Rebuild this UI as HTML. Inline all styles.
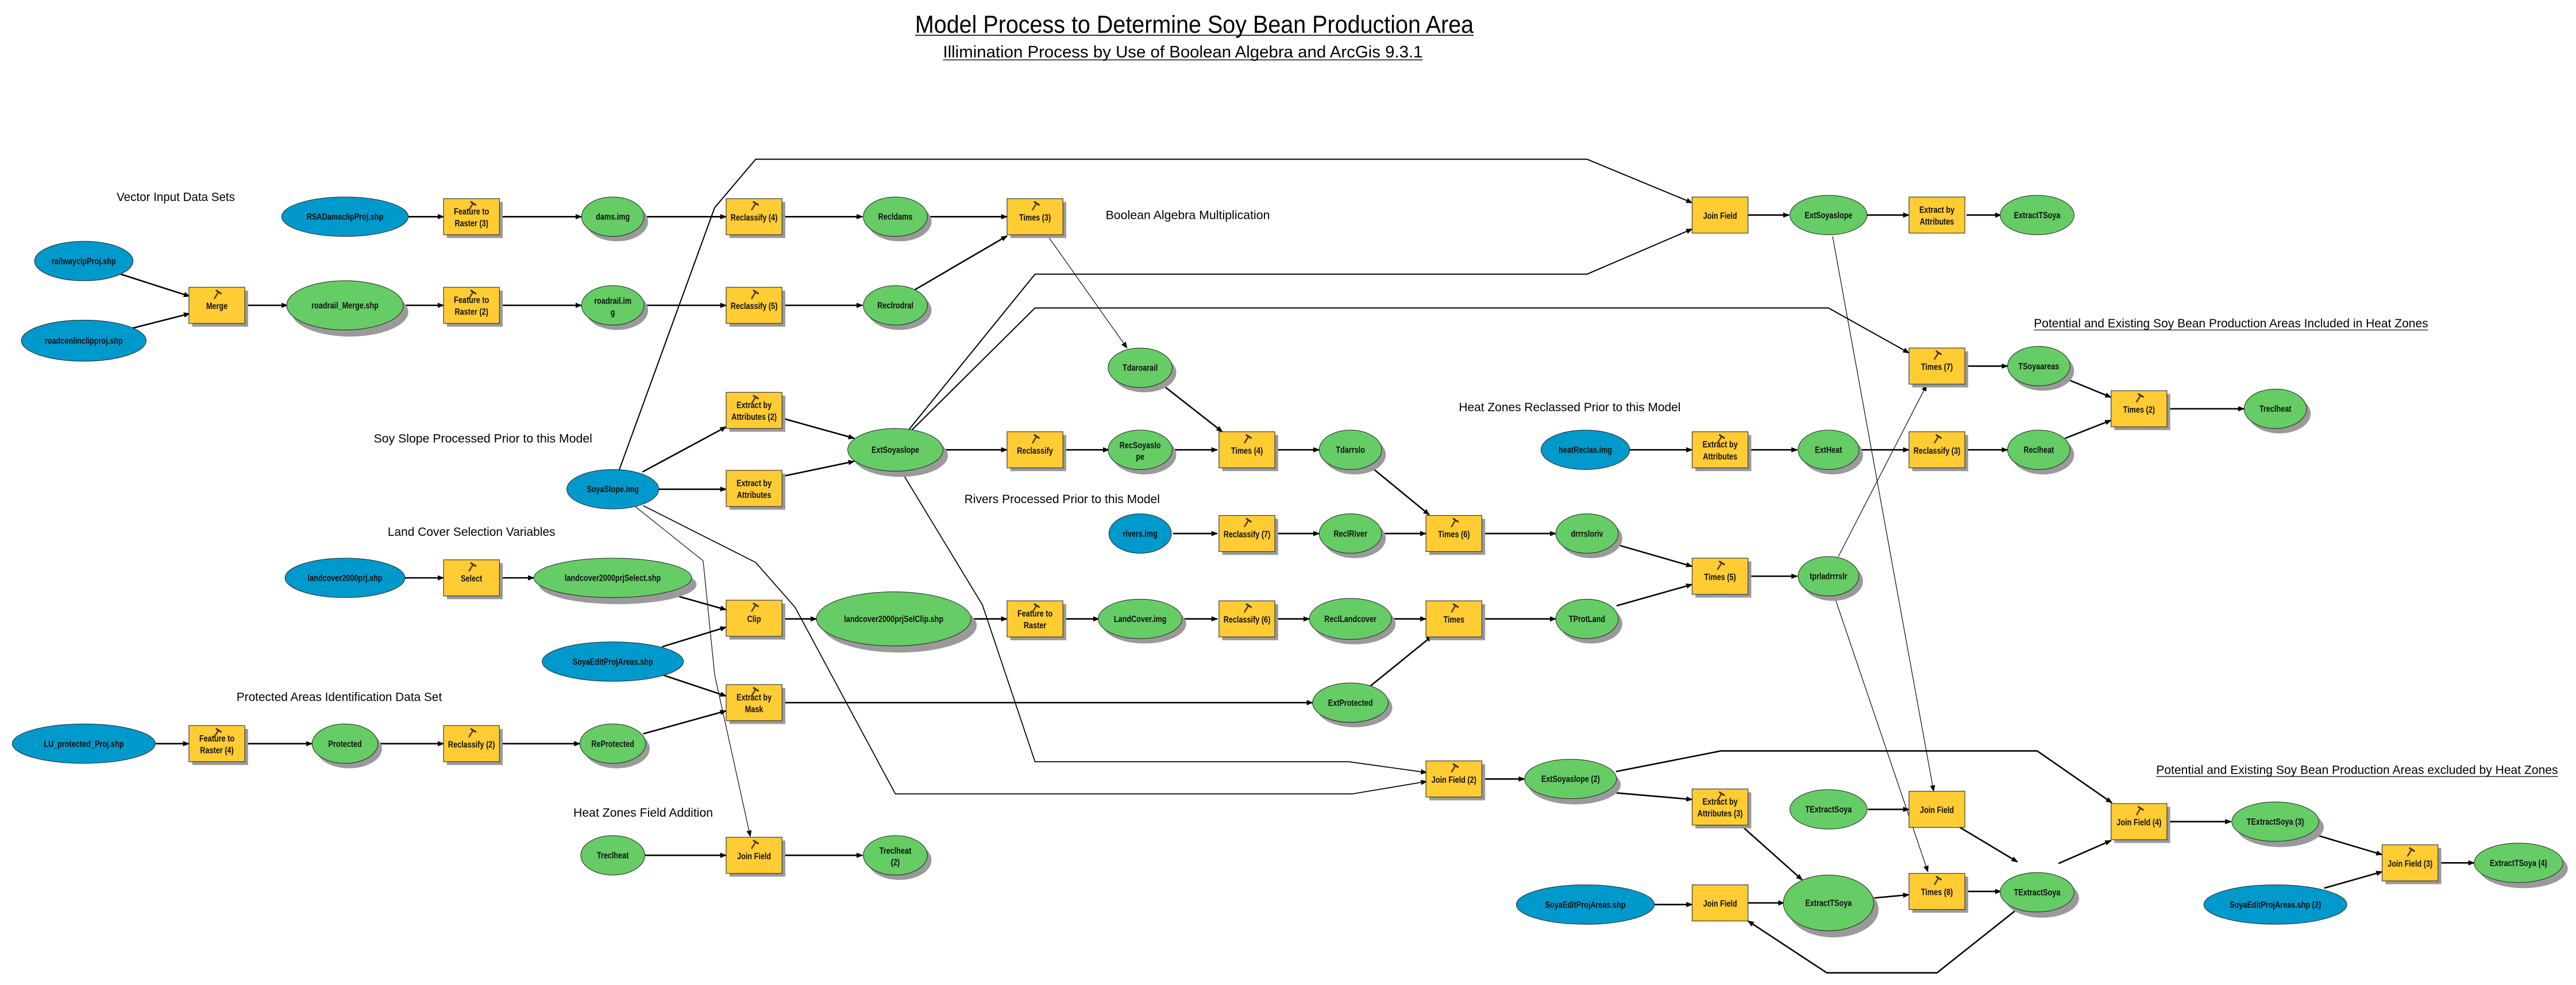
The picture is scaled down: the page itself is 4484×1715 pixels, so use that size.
<!DOCTYPE html>
<html><head><meta charset="utf-8"><style>
html,body{margin:0;padding:0;background:#fff;}
svg{display:block;}
.l{font-family:"Liberation Sans",Arial,sans-serif;font-weight:bold;font-size:5.4px;fill:#111;text-anchor:middle;}
.h{font-family:"Liberation Sans",Arial,sans-serif;font-size:7.5px;fill:#000;}
.k{fill:none;stroke:#000;stroke-width:0.9;}
.t{fill:none;stroke:#000;stroke-width:0.4;}
.gs{fill:#9a9a9a;}
.g{fill:#66CC66;stroke:#222;stroke-width:0.35;}
.bl{fill:#0099CC;stroke:#222;stroke-width:0.35;}
</style></head><body>
<svg width="4484" height="1715" viewBox="0 0 1568 600" preserveAspectRatio="none" xmlns="http://www.w3.org/2000/svg">
<defs>
<marker id="a" markerWidth="4" markerHeight="4" refX="3.6" refY="2" orient="auto" markerUnits="userSpaceOnUse"><path d="M0,0.4 L4,2 L0,3.6 Z" fill="#000"/></marker>
<g id="b"><rect x="-15" y="-9" width="34" height="22" fill="#9a9a9a"/><rect x="-17" y="-11" width="34" height="22" fill="#FFCC33" stroke="#333" stroke-width="0.4"/></g>
<g id="bh"><use href="#b"/><path d="M-1.6,-4 L1,-8.2" stroke="#6b3a10" stroke-width="0.9"/><path d="M-0.6,-9.2 L2.8,-7" stroke="#333" stroke-width="1"/></g>
<g id="bn"><rect x="-17" y="-11" width="34" height="22" fill="#FFCC33" stroke="#333" stroke-width="0.4"/></g>
</defs>
<rect width="1568" height="600" fill="#fff"/>

<!-- Titles -->
<text x="557" y="20" font-family="Liberation Sans, Arial, sans-serif" font-size="15" textLength="340" lengthAdjust="spacingAndGlyphs">Model Process to Determine Soy Bean Production Area</text>
<line x1="557" y1="21.5" x2="897" y2="21.5" stroke="#000" stroke-width="0.6"/>
<text x="574" y="35" font-family="Liberation Sans, Arial, sans-serif" font-size="10" textLength="292" lengthAdjust="spacingAndGlyphs">Illimination Process by Use of Boolean Algebra and ArcGis 9.3.1</text>
<line x1="574" y1="36.5" x2="866" y2="36.5" stroke="#000" stroke-width="0.5"/>

<!-- Headings -->
<text class="h" x="71" y="122.5" textLength="72" lengthAdjust="spacingAndGlyphs">Vector Input Data Sets</text>
<text class="h" x="227.5" y="269.5" textLength="133" lengthAdjust="spacingAndGlyphs">Soy Slope Processed Prior to  this Model</text>
<text class="h" x="236" y="326.5" textLength="102" lengthAdjust="spacingAndGlyphs">Land Cover Selection Variables</text>
<text class="h" x="144" y="427" textLength="125" lengthAdjust="spacingAndGlyphs">Protected Areas Identification Data Set</text>
<text class="h" x="349" y="497.5" textLength="85" lengthAdjust="spacingAndGlyphs">Heat Zones Field Addition</text>
<text class="h" x="673" y="133.5" textLength="100" lengthAdjust="spacingAndGlyphs">Boolean Algebra Multiplication</text>
<text class="h" x="587" y="306.5" textLength="119" lengthAdjust="spacingAndGlyphs">Rivers Processed Prior to this Model</text>
<text class="h" x="888" y="250.5" textLength="135" lengthAdjust="spacingAndGlyphs">Heat Zones Reclassed Prior to this Model</text>
<text class="h" x="1238" y="199.5" textLength="240" lengthAdjust="spacingAndGlyphs">Potential and Existing Soy Bean Production Areas Included in Heat Zones</text>
<line x1="1238" y1="201" x2="1478" y2="201" stroke="#000" stroke-width="0.4"/>
<text class="h" x="1312.5" y="471.5" textLength="244.5" lengthAdjust="spacingAndGlyphs">Potential and Existing Soy Bean Production Areas excluded by Heat Zones</text>
<line x1="1312.5" y1="473" x2="1557" y2="473" stroke="#000" stroke-width="0.4"/>

<!-- Connectors (drawn under nodes) -->
<g marker-end="url(#a)">
<line class="k" x1="73.5" y1="167" x2="115.5" y2="180.5"/>
<line class="k" x1="80.3" y1="200" x2="115.5" y2="191"/>
<line class="k" x1="150" y1="186" x2="175" y2="186"/>
<line class="k" x1="248" y1="132" x2="270" y2="132"/>
<line class="k" x1="246" y1="186" x2="270" y2="186"/>
<line class="k" x1="304" y1="132" x2="354" y2="132"/>
<line class="k" x1="304" y1="186" x2="354" y2="186"/>
<line class="k" x1="392" y1="132" x2="442" y2="132"/>
<line class="k" x1="392" y1="186" x2="442" y2="186"/>
<line class="k" x1="477" y1="132" x2="525" y2="132"/>
<line class="k" x1="477" y1="186" x2="525" y2="186"/>
<line class="k" x1="564" y1="132" x2="613" y2="132"/>
<line class="k" x1="556" y1="177" x2="613" y2="143.7"/>
<line class="t" x1="638" y1="144" x2="686" y2="212"/>
<line class="k" x1="707" y1="234" x2="744" y2="263"/>
<line class="k" x1="391" y1="287.5" x2="442" y2="260"/>
<line class="k" x1="401" y1="298" x2="442" y2="298"/>
<line class="k" x1="477" y1="255" x2="520" y2="267"/>
<line class="k" x1="477" y1="290" x2="520" y2="281"/>
<line class="k" x1="574" y1="274" x2="613" y2="274"/>
<line class="k" x1="647" y1="274" x2="675" y2="274"/>
<line class="k" x1="714" y1="274" x2="741" y2="274"/>
<line class="k" x1="776" y1="274" x2="803" y2="274"/>
<line class="k" x1="834" y1="284" x2="870" y2="313.6"/>
<line class="k" x1="714" y1="325" x2="741" y2="325"/>
<line class="k" x1="776" y1="325" x2="803" y2="325"/>
<line class="k" x1="841" y1="325" x2="868" y2="325"/>
<line class="k" x1="902" y1="325" x2="947" y2="325"/>
<line class="k" x1="983.6" y1="331.6" x2="1030" y2="345"/>
<line class="k" x1="984" y1="369" x2="1030" y2="356"/>
<line class="k" x1="1064" y1="351" x2="1094" y2="351"/>
<line class="k" x1="246" y1="352" x2="270" y2="352"/>
<line class="k" x1="304" y1="352" x2="325" y2="352"/>
<line class="k" x1="405" y1="361" x2="442" y2="371.4"/>
<line class="k" x1="403" y1="394" x2="442" y2="382"/>
<line class="k" x1="477" y1="377" x2="497" y2="377"/>
<line class="k" x1="403" y1="411" x2="442" y2="424"/>
<line class="k" x1="391.5" y1="447" x2="442" y2="433"/>
<line class="k" x1="477" y1="428" x2="799" y2="428"/>
<line class="k" x1="834" y1="418" x2="871.7" y2="387.4"/>
<line class="k" x1="591" y1="377" x2="613" y2="377"/>
<line class="k" x1="647" y1="377" x2="669" y2="377"/>
<line class="k" x1="720" y1="377" x2="741" y2="377"/>
<line class="k" x1="776" y1="377" x2="797" y2="377"/>
<line class="k" x1="847" y1="377" x2="868" y2="377"/>
<line class="k" x1="902" y1="377" x2="947" y2="377"/>
<line class="k" x1="94" y1="453" x2="115" y2="453"/>
<line class="k" x1="150" y1="453" x2="190" y2="453"/>
<line class="k" x1="229" y1="453" x2="270" y2="453"/>
<line class="k" x1="304" y1="453" x2="353" y2="453"/>
<line class="k" x1="392" y1="521" x2="442" y2="521"/>
<line class="k" x1="477" y1="521" x2="525" y2="521"/>
<line class="k" x1="902" y1="474.5" x2="928" y2="474.5"/>
<line class="k" x1="1064" y1="131" x2="1089" y2="131"/>
<line class="k" x1="1136" y1="131" x2="1162" y2="131"/>
<line class="k" x1="1197" y1="131" x2="1218" y2="131"/>
<line class="k" x1="992" y1="274" x2="1030" y2="274"/>
<line class="k" x1="1064" y1="274" x2="1094" y2="274"/>
<line class="k" x1="1131" y1="274" x2="1162" y2="274"/>
<line class="k" x1="1197" y1="274" x2="1222" y2="274"/>
<line class="k" x1="1197" y1="223" x2="1222" y2="223"/>
<line class="k" x1="1257" y1="230.5" x2="1285" y2="242"/>
<line class="k" x1="1257" y1="267" x2="1285" y2="256"/>
<line class="k" x1="1319" y1="249" x2="1366" y2="249"/>
<line class="k" x1="984" y1="483" x2="1030" y2="487"/>
<line class="k" x1="1137" y1="493" x2="1162" y2="493"/>
<line class="k" x1="1007" y1="551" x2="1030" y2="551"/>
<line class="k" x1="1064" y1="550" x2="1086" y2="550"/>
<line class="k" x1="1140.6" y1="547" x2="1162" y2="545"/>
<line class="k" x1="1197" y1="543" x2="1218" y2="543"/>
<line class="k" x1="1193" y1="504" x2="1228" y2="525"/>
<line class="k" x1="1253" y1="526" x2="1285" y2="512"/>
<line class="k" x1="1319" y1="500.5" x2="1358" y2="500.5"/>
<line class="k" x1="1407.7" y1="508" x2="1450" y2="520.6"/>
<line class="k" x1="1414.7" y1="541" x2="1450" y2="531"/>
<line class="k" x1="1484" y1="525.6" x2="1506" y2="525.6"/>
<line class="k" x1="1060" y1="503" x2="1097" y2="536"/>
<polyline class="k" points="1227.6,554 1179,592.6 1112,592.6 1064,561"/>
<polyline class="k" points="983.6,470 1047.6,457.4 1240,457.4 1285.5,489"/>
<polyline class="k" points="377,286 435,126.5 460,97 966,97 1030,123.5" style="stroke-width:0.7"/>
<polyline class="k" points="553,262 630,167 966,167 1030,139.5" style="stroke-width:0.7"/>
<polyline class="k" points="555,262 630,187.6 1113,187.6 1162,215" style="stroke-width:0.7"/>
<polyline class="k" points="548,286 598,368.5 630,464 821,464 868.5,470.6" style="stroke-width:0.6"/>
<polyline class="k" points="391.5,308 460,342.6 484,370 545,483.6 823,483.6 868.5,476" style="stroke-width:0.6"/>
<polyline class="t" points="386,308 428,341.6 435,411 456.7,509.5"/>
<line class="t" x1="1115.5" y1="144" x2="1177" y2="482"/>
<line class="t" x1="1116.5" y1="363" x2="1173.5" y2="531"/>
<line class="t" x1="1119" y1="339" x2="1172.7" y2="234.6"/>
</g>

<!-- Blue inputs -->
<ellipse class="bl" cx="51" cy="159" rx="30" ry="12"/>
<ellipse class="bl" cx="51" cy="207.5" rx="38" ry="12.5"/>
<ellipse class="bl" cx="210" cy="132" rx="38.5" ry="12"/>
<ellipse class="bl" cx="373" cy="298" rx="28" ry="12"/>
<ellipse class="bl" cx="210" cy="352" rx="36.5" ry="12"/>
<ellipse class="bl" cx="373" cy="403" rx="43" ry="12"/>
<ellipse class="bl" cx="51" cy="453" rx="43.5" ry="12"/>
<ellipse class="bl" cx="694" cy="325" rx="19" ry="12"/>
<ellipse class="bl" cx="965" cy="274" rx="27" ry="12"/>
<ellipse class="bl" cx="965" cy="551" rx="42" ry="12"/>
<ellipse class="bl" cx="1385" cy="551" rx="43.5" ry="12"/>

<!-- Green ellipses: shadow then body -->
<g>
<ellipse class="gs" cx="213" cy="190" rx="35.5" ry="15"/><ellipse class="g" cx="210" cy="186" rx="35.5" ry="15"/>
<ellipse class="gs" cx="375.5" cy="135" rx="19" ry="12"/><ellipse class="g" cx="373" cy="132" rx="19" ry="12"/>
<ellipse class="gs" cx="375.5" cy="189" rx="19" ry="12"/><ellipse class="g" cx="373" cy="186" rx="19" ry="12"/>
<ellipse class="gs" cx="547.5" cy="135" rx="19.5" ry="12"/><ellipse class="g" cx="545" cy="132" rx="19.5" ry="12"/>
<ellipse class="gs" cx="547.5" cy="189" rx="19.5" ry="12"/><ellipse class="g" cx="545" cy="186" rx="19.5" ry="12"/>
<ellipse class="gs" cx="696.5" cy="227" rx="19.5" ry="12"/><ellipse class="g" cx="694" cy="224" rx="19.5" ry="12"/>
<ellipse class="gs" cx="548" cy="277.5" rx="29" ry="13"/><ellipse class="g" cx="545" cy="274" rx="29" ry="13"/>
<ellipse class="gs" cx="696.5" cy="277" rx="19.5" ry="12"/><ellipse class="g" cx="694" cy="274" rx="19.5" ry="12"/>
<ellipse class="gs" cx="824.5" cy="277" rx="19" ry="12"/><ellipse class="g" cx="822" cy="274" rx="19" ry="12"/>
<ellipse class="gs" cx="824.5" cy="328" rx="19" ry="12"/><ellipse class="g" cx="822" cy="325" rx="19" ry="12"/>
<ellipse class="gs" cx="968.5" cy="328" rx="19" ry="12"/><ellipse class="g" cx="966" cy="325" rx="19" ry="12"/>
<ellipse class="gs" cx="376" cy="356" rx="48" ry="12"/><ellipse class="g" cx="373" cy="352" rx="48" ry="12"/>
<ellipse class="gs" cx="547.5" cy="381" rx="47" ry="16.5"/><ellipse class="g" cx="544" cy="377" rx="47" ry="16.5"/>
<ellipse class="gs" cx="696.5" cy="380" rx="25.5" ry="12"/><ellipse class="g" cx="694" cy="377" rx="25.5" ry="12"/>
<ellipse class="gs" cx="824.5" cy="380" rx="25" ry="12.5"/><ellipse class="g" cx="822" cy="377" rx="25" ry="12.5"/>
<ellipse class="gs" cx="968.5" cy="380" rx="19" ry="12"/><ellipse class="g" cx="966" cy="377" rx="19" ry="12"/>
<ellipse class="gs" cx="824.5" cy="431" rx="23" ry="12"/><ellipse class="g" cx="822" cy="428" rx="23" ry="12"/>
<ellipse class="gs" cx="212.5" cy="456" rx="20" ry="12"/><ellipse class="g" cx="210" cy="453" rx="20" ry="12"/>
<ellipse class="gs" cx="375.5" cy="456" rx="20" ry="12"/><ellipse class="g" cx="373" cy="453" rx="20" ry="12"/>
<ellipse class="g" cx="373" cy="521" rx="19.5" ry="12"/>
<ellipse class="gs" cx="547.5" cy="524" rx="19.5" ry="12"/><ellipse class="g" cx="545" cy="521" rx="19.5" ry="12"/>
<ellipse class="gs" cx="958.5" cy="478" rx="28" ry="12"/><ellipse class="g" cx="956" cy="474.5" rx="28" ry="12"/>
<ellipse class="g" cx="1113" cy="131" rx="23.5" ry="12"/>
<ellipse class="g" cx="1240" cy="131" rx="22.5" ry="12"/>
<ellipse class="gs" cx="1243.5" cy="226" rx="19" ry="12"/><ellipse class="g" cx="1241" cy="223" rx="19" ry="12"/>
<ellipse class="gs" cx="1387.5" cy="252" rx="19" ry="12"/><ellipse class="g" cx="1385" cy="249" rx="19" ry="12"/>
<ellipse class="gs" cx="1115.5" cy="277" rx="18.5" ry="12"/><ellipse class="g" cx="1113" cy="274" rx="18.5" ry="12"/>
<ellipse class="gs" cx="1243.5" cy="277" rx="19" ry="12"/><ellipse class="g" cx="1241" cy="274" rx="19" ry="12"/>
<ellipse class="gs" cx="1115.5" cy="354" rx="18.5" ry="12"/><ellipse class="g" cx="1113" cy="351" rx="18.5" ry="12"/>
<ellipse class="g" cx="1113" cy="493" rx="23.5" ry="12"/>
<ellipse class="gs" cx="1116" cy="554" rx="27.5" ry="17"/><ellipse class="g" cx="1113" cy="550" rx="27.5" ry="17"/>
<ellipse class="gs" cx="1243" cy="547" rx="22.5" ry="12"/><ellipse class="g" cx="1240" cy="543.5" rx="22.5" ry="12"/>
<ellipse class="gs" cx="1388" cy="504" rx="26.5" ry="12"/><ellipse class="g" cx="1385" cy="500.5" rx="26.5" ry="12"/>
<ellipse class="gs" cx="1536" cy="529" rx="27" ry="12"/><ellipse class="g" cx="1533" cy="525.6" rx="27" ry="12"/>
</g>

<!-- Boxes -->
<use href="#bh" x="132" y="186"/>
<use href="#bh" x="287" y="132"/><use href="#bh" x="287" y="186"/>
<use href="#bh" x="459" y="132"/><use href="#bh" x="459" y="186"/>
<use href="#bh" x="630" y="132"/>
<use href="#bh" x="459" y="250"/><use href="#b" x="459" y="297.5"/>
<use href="#bh" x="630" y="274"/><use href="#bh" x="759" y="274"/>
<use href="#bh" x="287" y="352"/><use href="#bh" x="459" y="376.6"/><use href="#bh" x="459" y="428"/>
<use href="#bh" x="132" y="453"/><use href="#bh" x="287" y="453"/>
<use href="#bh" x="459" y="521"/>
<use href="#bh" x="759" y="325"/><use href="#bh" x="885" y="325"/>
<use href="#bh" x="630" y="377"/><use href="#bh" x="759" y="377"/><use href="#bh" x="885" y="377"/>
<use href="#bh" x="885" y="474.5"/>
<use href="#bn" x="1047" y="131"/><use href="#bn" x="1179" y="131"/>
<use href="#bh" x="1179" y="223"/><use href="#bh" x="1302" y="249"/>
<use href="#bh" x="1047" y="274"/><use href="#bh" x="1179" y="274"/>
<use href="#bh" x="1047" y="351"/>
<use href="#bh" x="1047" y="491.6"/><use href="#bn" x="1179" y="493"/>
<use href="#bn" x="1047" y="550"/><use href="#bh" x="1179" y="543"/>
<use href="#bh" x="1302" y="500.5"/><use href="#bh" x="1467" y="525.6"/>

<!-- Labels -->
<g class="l">
<text transform="translate(51,160.9) scale(.82,1)">railwaycipProj.shp</text>
<text transform="translate(51,209.4) scale(.82,1)">roadcenlinclipproj.shp</text>
<text transform="translate(210,133.9) scale(.82,1)">RSADamsclipProj.shp</text>
<text transform="translate(132,188.3) scale(.82,1)">Merge</text>
<text transform="translate(210,187.9) scale(.82,1)">roadrail_Merge.shp</text>
<text transform="translate(287,130.6) scale(.82,1)">Feature to</text><text transform="translate(287,137.8) scale(.82,1)">Raster (3)</text>
<text transform="translate(287,184.6) scale(.82,1)">Feature to</text><text transform="translate(287,191.8) scale(.82,1)">Raster (2)</text>
<text transform="translate(373,133.9) scale(.82,1)">dams.img</text>
<text transform="translate(373,185.1) scale(.82,1)">roadrail.im</text><text transform="translate(373,192.1) scale(.82,1)">g</text>
<text transform="translate(459,134.3) scale(.82,1)">Reclassify (4)</text>
<text transform="translate(459,188.3) scale(.82,1)">Reclassify (5)</text>
<text transform="translate(545,133.9) scale(.82,1)">Recldams</text>
<text transform="translate(545,187.9) scale(.82,1)">Reclrodral</text>
<text transform="translate(630,134.3) scale(.82,1)">Times (3)</text>
<text transform="translate(694,225.9) scale(.82,1)">Tdaroarail</text>
<text transform="translate(459,248.6) scale(.82,1)">Extract by</text><text transform="translate(459,255.8) scale(.82,1)">Attributes (2)</text>
<text transform="translate(459,296.1) scale(.82,1)">Extract by</text><text transform="translate(459,303.3) scale(.82,1)">Attributes</text>
<text transform="translate(373,299.9) scale(.82,1)">SoyaSlope.img</text>
<text transform="translate(545,275.9) scale(.82,1)">ExtSoyaslope</text>
<text transform="translate(630,276.3) scale(.82,1)">Reclassify</text>
<text transform="translate(694,273.1) scale(.82,1)">RecSoyaslo</text><text transform="translate(694,280.1) scale(.82,1)">pe</text>
<text transform="translate(759,276.3) scale(.82,1)">Times (4)</text>
<text transform="translate(822,275.9) scale(.82,1)">Tdarrslo</text>
<text transform="translate(694,326.9) scale(.82,1)">rivers.img</text>
<text transform="translate(759,327.3) scale(.82,1)">Reclassify (7)</text>
<text transform="translate(822,326.9) scale(.82,1)">ReclRiver</text>
<text transform="translate(885,327.3) scale(.82,1)">Times (6)</text>
<text transform="translate(966,326.9) scale(.82,1)">drrrsloriv</text>
<text transform="translate(210,353.9) scale(.82,1)">landcover2000prj.shp</text>
<text transform="translate(287,354.3) scale(.82,1)">Select</text>
<text transform="translate(373,353.9) scale(.82,1)">landcover2000prjSelect.shp</text>
<text transform="translate(459,378.9) scale(.82,1)">Clip</text>
<text transform="translate(544,378.9) scale(.82,1)">landcover2000prjSelClip.shp</text>
<text transform="translate(630,375.6) scale(.82,1)">Feature to</text><text transform="translate(630,382.8) scale(.82,1)">Raster</text>
<text transform="translate(694,378.9) scale(.82,1)">LandCover.img</text>
<text transform="translate(759,379.3) scale(.82,1)">Reclassify (6)</text>
<text transform="translate(822,378.9) scale(.82,1)">ReclLandcover</text>
<text transform="translate(885,379.3) scale(.82,1)">Times</text>
<text transform="translate(966,378.9) scale(.82,1)">TProtLand</text>
<text transform="translate(373,404.9) scale(.82,1)">SoyaEditProjAreas.shp</text>
<text transform="translate(459,426.6) scale(.82,1)">Extract by</text><text transform="translate(459,433.8) scale(.82,1)">Mask</text>
<text transform="translate(822,429.9) scale(.82,1)">ExtProtected</text>
<text transform="translate(51,454.9) scale(.82,1)">LU_protected_Proj.shp</text>
<text transform="translate(132,451.6) scale(.82,1)">Feature to</text><text transform="translate(132,458.8) scale(.82,1)">Raster (4)</text>
<text transform="translate(210,454.9) scale(.82,1)">Protected</text>
<text transform="translate(287,455.3) scale(.82,1)">Reclassify (2)</text>
<text transform="translate(373,454.9) scale(.82,1)">ReProtected</text>
<text transform="translate(373,522.9) scale(.82,1)">Treclheat</text>
<text transform="translate(459,523.3) scale(.82,1)">Join Field</text>
<text transform="translate(545,520.1) scale(.82,1)">Treclheat</text><text transform="translate(545,527.1) scale(.82,1)">(2)</text>
<text transform="translate(885,476.8) scale(.82,1)">Join Field (2)</text>
<text transform="translate(956,476.4) scale(.82,1)">ExtSoyaslope (2)</text>
<text transform="translate(965,552.9) scale(.82,1)">SoyaEditProjAreas.shp</text>
<text transform="translate(1047,133.3) scale(.82,1)">Join Field</text>
<text transform="translate(1113,132.9) scale(.82,1)">ExtSoyaslope</text>
<text transform="translate(1179,129.6) scale(.82,1)">Extract by</text><text transform="translate(1179,136.8) scale(.82,1)">Attributes</text>
<text transform="translate(1240,132.9) scale(.82,1)">ExtractTSoya</text>
<text transform="translate(1179,225.3) scale(.82,1)">Times (7)</text>
<text transform="translate(1241,224.9) scale(.82,1)">TSoyaareas</text>
<text transform="translate(1302,251.3) scale(.82,1)">Times (2)</text>
<text transform="translate(1385,250.9) scale(.82,1)">Treclheat</text>
<text transform="translate(965,275.9) scale(.82,1)">heatReclas.img</text>
<text transform="translate(1047,272.6) scale(.82,1)">Extract by</text><text transform="translate(1047,279.8) scale(.82,1)">Attributes</text>
<text transform="translate(1113,275.9) scale(.82,1)">ExtHeat</text>
<text transform="translate(1179,276.3) scale(.82,1)">Reclassify (3)</text>
<text transform="translate(1241,275.9) scale(.82,1)">Reclheat</text>
<text transform="translate(1047,353.3) scale(.82,1)">Times (5)</text>
<text transform="translate(1113,352.9) scale(.82,1)">tprladrrrslr</text>
<text transform="translate(1047,490.2) scale(.82,1)">Extract by</text><text transform="translate(1047,497.4) scale(.82,1)">Attributes (3)</text>
<text transform="translate(1113,494.9) scale(.82,1)">TExtractSoya</text>
<text transform="translate(1179,495.3) scale(.82,1)">Join Field</text>
<text transform="translate(1047,552.3) scale(.82,1)">Join Field</text>
<text transform="translate(1113,551.9) scale(.82,1)">ExtractTSoya</text>
<text transform="translate(1179,545.3) scale(.82,1)">Times (8)</text>
<text transform="translate(1240,545.4) scale(.82,1)">TExtractSoya</text>
<text transform="translate(1302,502.8) scale(.82,1)">Join Field (4)</text>
<text transform="translate(1385,502.4) scale(.82,1)">TExtractSoya (3)</text>
<text transform="translate(1467,527.9) scale(.82,1)">Join Field (3)</text>
<text transform="translate(1533,527.5) scale(.82,1)">ExtractTSoya (4)</text>
<text transform="translate(1385,552.9) scale(.82,1)">SoyaEditProjAreas.shp (2)</text>
</g>
</svg>
</body></html>
